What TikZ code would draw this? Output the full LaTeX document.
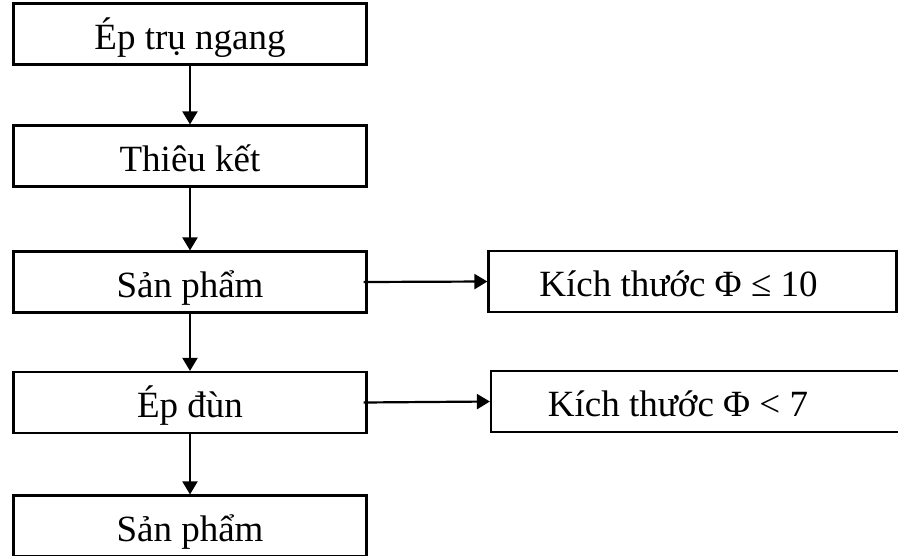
\documentclass[tikz,border=0pt]{standalone}
\usepackage{fontspec}
\setmainfont{Liberation Serif}
\usetikzlibrary{arrows.meta}
\begin{document}
\begin{tikzpicture}[x=1pt,y=-1pt,
  stepbox/.style={draw, line width=2.2pt, minimum height=61pt, inner sep=0pt,
    text height=38pt, text depth=8pt,
    font=\fontsize{37pt}{40pt}\selectfont},
  mainbox/.style={stepbox, minimum width=353pt},
  sidebox/.style={stepbox, minimum width=408pt},
  flow/.style={line width=2.2pt, -{Triangle[length=13pt,width=15pt]}}]
\useasboundingbox (0,0) rectangle (898,555);
\clip (0,0) rectangle (898,555);
% main column
\node[mainbox] (s1) at (190,34) {Ép trụ ngang};
\node[mainbox] (s2) at (190,156) {Thiêu kết};
\node[mainbox] (s3) at (190,282) {Sản phẩm};
\node[mainbox] (s4) at (190,402.5) {Ép đùn};
\node[mainbox] (s5) at (190,526) {Sản phẩm};
% size results on the right
\node[sidebox] (k1) at (692.5,281.5) {Kích thước Φ ≤ 10\hspace*{28pt}};
\node[sidebox] (k2) at (695,401.5) {Kích thước Φ < 7\hspace*{34pt}};
% connectors
\draw[flow] (s1) -- (s2);
\draw[flow] (s2) -- (s3);
\draw[flow] (s3) -- (s4);
\draw[flow] (s4) -- (s5);
\draw[flow] ([xshift=-4pt]s3.east) -- (k1.west);
\draw[flow] ([xshift=-4pt]s4.east) -- (k2.west);
\end{tikzpicture}
\end{document}
